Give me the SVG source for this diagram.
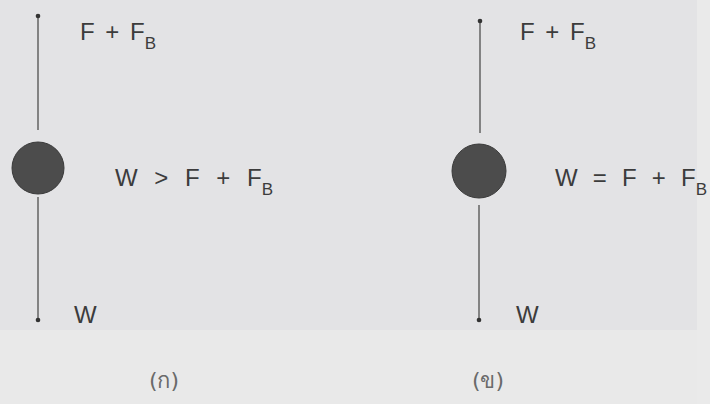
<svg xmlns="http://www.w3.org/2000/svg" width="710" height="404" viewBox="0 0 710 404">
<defs>
<style>
.t{font-family:"Liberation Sans",Arial,sans-serif;font-size:24px;fill:#3c3c3c;word-spacing:8.5px}
.u{word-spacing:4px}
.s{font-size:17px}
.c{font-family:"DejaVu Sans","Noto Sans","Liberation Sans",sans-serif;font-size:22px;fill:#6a6a6a}
.ln{stroke:#5a5a5a;stroke-width:1.4;fill:none}
.ball{fill:#4c4c4c;stroke:#3a3a3a;stroke-width:1}
</style>
<marker id="ah" viewBox="0 0 6 6" refX="3" refY="3" markerWidth="4" markerHeight="4" orient="auto">
<circle cx="3" cy="3" r="2.5" fill="#333"/>
</marker>
</defs>
<rect width="710" height="404" fill="#e3e3e5"/>
<rect y="330" width="710" height="74" fill="#e9e9e9"/>
<rect x="697" width="13" height="404" fill="#eaeaea"/>
<g id="connectors">
<line class="ln" x1="38" y1="130" x2="38" y2="16" marker-end="url(#ah)"/>
<line class="ln" x1="38" y1="197" x2="38" y2="320" marker-end="url(#ah)"/>
<line class="ln" x1="480" y1="133" x2="480" y2="21" marker-end="url(#ah)"/>
<line class="ln" x1="479" y1="205" x2="479" y2="320" marker-end="url(#ah)"/>
</g>
<g id="ball-a"><circle class="ball" cx="38" cy="168" r="26"/></g>
<g id="ball-b"><circle class="ball" cx="479" cy="171" r="27"/></g>
<g id="label-a-up"><text class="t u" x="80" y="40">F + F<tspan class="s" dy="9">B</tspan></text></g>
<g id="label-a-eq"><text class="t" x="115" y="186" style="word-spacing:10px">W &gt; F + F<tspan class="s" dy="9">B</tspan></text></g>
<g id="label-a-w"><text class="t" x="74" y="323">W</text></g>
<g id="caption-a"><text class="c" x="164" y="388" text-anchor="middle">(ก)</text></g>
<g id="label-b-up"><text class="t u" x="520" y="40">F + F<tspan class="s" dy="9">B</tspan></text></g>
<g id="label-b-eq"><text class="t" x="555" y="186">W = F + F<tspan class="s" dy="9">B</tspan></text></g>
<g id="label-b-w"><text class="t" x="516" y="323">W</text></g>
<g id="caption-b"><text class="c" x="488" y="388" text-anchor="middle">(ข)</text></g>
</svg>
